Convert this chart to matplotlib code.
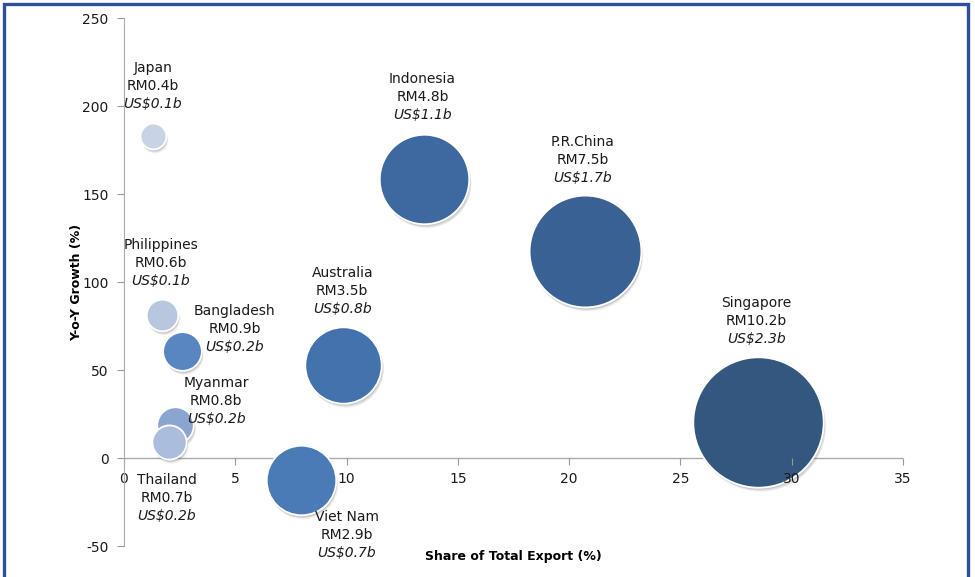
import numpy as np
import matplotlib.pyplot as plt
import matplotlib.transforms as mtransforms
from matplotlib.patches import Rectangle

plt.rcParams["axes.unicode_minus"] = False

# data
countries = ["Japan", "Philippines", "Myanmar", "Thailand", "Bangladesh",
             "Viet Nam", "Australia", "Indonesia", "P.R.China", "Singapore"]
share = [1.3, 1.7, 2.3, 2.0, 2.6, 7.95, 9.85, 13.5, 20.7, 28.5]
growth = [183, 81, 19, 9, 61, -12.5, 53, 158.5, 117.5, 20.5]
rm_value = [0.4, 0.6, 0.8, 0.7, 0.9, 2.9, 3.5, 4.8, 7.5, 10.2]
usd_value = [0.1, 0.1, 0.2, 0.2, 0.2, 0.7, 0.8, 1.1, 1.7, 2.3]

x_ticks = [0, 5, 10, 15, 20, 25, 30, 35]
y_ticks = [-50, 0, 50, 100, 150, 200, 250]

# styling
colors = ["#c9d3e6", "#b8c6e0", "#8aa6d0", "#aabddc", "#5986c0",
          "#4a7bb7", "#4472ad", "#3e68a0", "#3a6193", "#34577f"]
# label offsets (pixels) of the middle label line from the bubble centre
label_dx = [0, -1, 41, -2, 53, 46, -1, -2, -2, -2]
label_dy = [50, 52, 24, -56, 22, -55, 74, 82, 91, 101]

fig = plt.figure(figsize=(9.75, 5.77), dpi=100)
ax = fig.add_axes([124 / 975, 1 - 546 / 577, 779 / 975, 528 / 577])

sizes = np.array(rm_value) * 864

# bubbles one by one, each with a soft drop shadow
for i in range(len(countries)):
    for dx, dy, a in [(1, -2, 0.12), (1.5, -3, 0.10), (2, -4, 0.06)]:
        shadow = mtransforms.offset_copy(ax.transData, fig=fig, x=dx, y=dy, units="dots")
        ax.scatter(share[i], growth[i], s=sizes[i], color="#333333", alpha=a,
                   linewidths=0, transform=shadow, zorder=0.8 + i * 0.01)
    ax.scatter(share[i], growth[i], s=sizes[i], color=colors[i],
               edgecolors="white", linewidths=1.3, zorder=0.805 + i * 0.01)

text_font = "DejaVu Sans"
for i in range(len(countries)):
    lines = [(countries[i], "normal"),
             (f"RM{rm_value[i]}b", "normal"),
             (f"US${usd_value[i]}b", "italic")]
    for j, (txt, style) in enumerate(lines):
        dy = label_dy[i] - (j - 1) * 18
        ax.annotate(txt, (share[i], growth[i]),
                    xytext=(label_dx[i] * 0.72, dy * 0.72),
                    textcoords="offset points", ha="center", va="center",
                    fontsize=10, style=style, color="#1a1a1a",
                    family=text_font, zorder=3)

ax.set_xlim(0, 35)
ax.set_ylim(-50, 250)
ax.set_xticks(x_ticks)
ax.set_yticks(y_ticks)
ax.tick_params(axis="both", labelsize=10, labelcolor="#1a1a1a",
               color="#999999", length=5, width=0.8)
ax.tick_params(axis="x", pad=5)
ax.tick_params(axis="y", pad=6)

ax.spines["top"].set_visible(False)
ax.spines["right"].set_visible(False)
ax.spines["bottom"].set_position(("data", 0))
ax.spines["bottom"].set_color("none")
ax.spines["left"].set_color("#aaaaaa")
ax.axhline(0, color="#aaaaaa", linewidth=1, zorder=0.5)

ax.set_xlabel("Share of Total Export (%)", fontsize=9, fontweight="bold")
ax.set_ylabel("Y-o-Y Growth (%)", fontsize=9, fontweight="bold")
ax.xaxis.set_label_coords(0.5, -0.008)
ax.yaxis.set_label_coords(-0.053, 0.5)

# blue frame around the chart
fig.patches.append(Rectangle((3.5 / 975, -0.05), 964 / 975, 1.05 - 3.5 / 577,
                             transform=fig.transFigure, fill=False,
                             edgecolor="#2f4f9e", linewidth=2.4))

fig.savefig("out.png", dpi=100)
